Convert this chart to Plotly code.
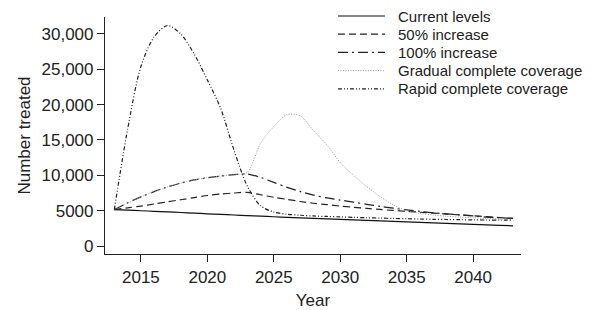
import plotly.graph_objects as go

years = list(range(2013, 2044))

current = [5150, 5070, 4990, 4910, 4830, 4740, 4650, 4560, 4470, 4390, 4300,
           4220, 4140, 4060, 3980, 3900, 3830, 3760, 3690, 3620, 3550, 3480,
           3410, 3340, 3270, 3200, 3130, 3060, 2990, 2920, 2860]

inc50 = [5150, 5400, 5650, 5950, 6250, 6550, 6850, 7150, 7350, 7500, 7600,
         7250, 6900, 6600, 6300, 6050, 5850, 5650, 5480, 5320, 5170, 5030,
         4900, 4780, 4650, 4520, 4400, 4280, 4150, 4020, 3900]

inc100 = [5150, 6100, 6950, 7700, 8350, 8900, 9350, 9650, 9900, 10100, 10200,
          9700, 9000, 8300, 7700, 7200, 6800, 6500, 6200, 5900, 5600, 5350,
          5100, 4900, 4700, 4550, 4400, 4250, 4100, 4000, 3900]

gradual = [5150, 6100, 6950, 7700, 8350, 8900, 9350, 9650, 9900, 10100, 10400,
           14500, 16900, 18600, 18400, 16300, 14300, 11800, 10000, 8400, 7000,
           5800, 5000, 4600, 4400, 4200, 4100, 4000, 3900, 3850, 3800]

rapid = [5150, 16500, 25400, 29600, 31200, 30000, 27200, 23500, 19500, 13600,
         8500, 5700, 4800, 4500, 4350, 4250, 4180, 4120, 4060, 4000, 3950,
         3900, 3860, 3820, 3780, 3750, 3720, 3700, 3680, 3660, 3650]

names = ["Current levels", "50% increase", "100% increase",
         "Gradual complete coverage", "Rapid complete coverage"]

ytick_vals = [0, 5000, 10000, 15000, 20000, 25000, 30000]
ytick_text = ["0", "5000", "10,000", "15,000", "20,000", "25,000", "30,000"]
xtick_vals = [2015, 2020, 2025, 2030, 2035, 2040]

styles = [
    dict(color="#111111", dash="solid", width=1.2),
    dict(color="#222222", dash="7px,4px", width=1.2),
    dict(color="#222222", dash="10px,4px,2px,4px", width=1.2),
    dict(color="#999999", dash="1px,1.5px", width=1.0),
    dict(color="#222222", dash="4px,2px,1px,2px,1px,2px", width=1.2),
]

series = [current, inc50, inc100, gradual, rapid]

fig = go.Figure()
for name, ys, st in zip(names, series, styles):
    fig.add_trace(go.Scatter(x=years, y=ys, name=name, mode="lines", showlegend=False,
                             line=dict(shape="spline", smoothing=0.8, **st)))

# legend drawn as annotations + sample lines (paper coordinates)
leg_top, leg_step = 1.0042, 0.0768
for i, (name, st) in enumerate(zip(names, styles)):
    yy = leg_top - i * leg_step
    fig.add_shape(type="line", xref="paper", yref="paper", x0=0.560, x1=0.673,
                  y0=yy, y1=yy, line=dict(color=st["color"], dash=st["dash"],
                                          width=st["width"]))
    fig.add_annotation(xref="paper", yref="paper", x=0.6995, y=yy, text=name,
                       showarrow=False, xanchor="left", yanchor="middle",
                       font=dict(size=15, color="#222222"))

fig.update_layout(
    width=596, height=302,
    margin=dict(l=97, r=83, t=9, b=56, autoexpand=False),
    paper_bgcolor="white", plot_bgcolor="white",
    font=dict(family="Liberation Sans, Arial, sans-serif", size=17, color="#222222"),
    showlegend=False,
    xaxis=dict(range=[2012.3, 2043.6], tickvals=xtick_vals, ticks="outside",
               ticklen=7, tickcolor="#222222", showline=True, linecolor="#222222",
               linewidth=1.2, showgrid=False, zeroline=False, automargin=False,
               tickfont=dict(size=17),
               title=dict(text="Year", standoff=8, font=dict(size=17))),
    yaxis=dict(range=[-1130, 32400], tickvals=ytick_vals, ticktext=ytick_text,
               ticks="outside", ticklen=7, tickcolor="#222222", showline=True,
               linecolor="#222222", linewidth=1.2, showgrid=False, zeroline=False,
               automargin=False, tickfont=dict(size=17),
               title=dict(text="Number treated", standoff=6, font=dict(size=17))),
)

fig.write_html("out.html")
